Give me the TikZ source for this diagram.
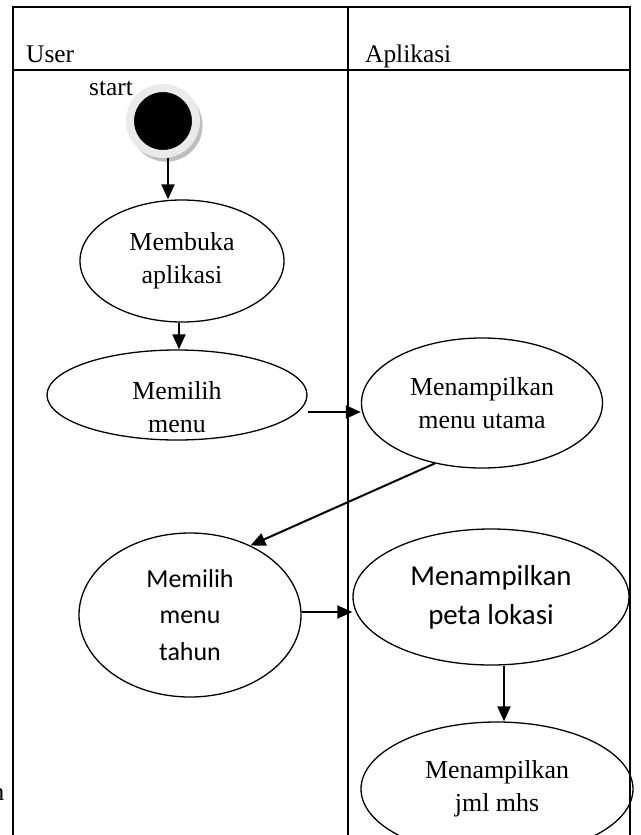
\documentclass[tikz,border=0pt]{standalone}
\usepackage{fontspec}
\setmainfont{Liberation Serif}
\newfontfamily\calibrifont{Carlito}
\usetikzlibrary{shapes.geometric,arrows.meta,shadows}
\definecolor{ringgray}{RGB}{234,234,234}
\definecolor{shadegray}{RGB}{190,190,190}
\tikzset{
  usecase/.style={ellipse,draw,line width=1.3bp,inner sep=0bp,align=center,
    font=\fontsize{26}{33}\selectfont},
  lane/.style={line width=1.8bp,line join=miter},
  lanetext/.style={anchor=base west,inner sep=0bp,font=\fontsize{25.5}{30}\selectfont},
  flow/.style={->,line width=2bp},
}
\begin{document}
\begin{tikzpicture}[>={Triangle[length=15bp,width=13bp]},line join=bevel,]
\useasboundingbox (0bp,0bp) rectangle (641bp,-835bp);
%% swimlanes
\draw [lane] (13bp,-835bp) -- (13bp,-7bp) -- (630bp,-7bp) -- (630bp,-835bp);
\draw [lane] (348bp,-7bp) -- (348bp,-835bp);
\draw [lane] (13bp,-70bp) -- (630bp,-70bp);
\node (lane_user) at (26bp,-62bp) [lanetext] {User};
\node (lane_app) at (365bp,-62bp) [lanetext] {Aplikasi};
\node (cut_text) at (4.5bp,-800bp) [lanetext,anchor=base east] {n};
%%
\node (node_start) at (163bp,-121bp) [circle,fill=black,draw=ringgray,line width=8bp,minimum size=66bp,inner sep=0bp,
  drop shadow={shadow xshift=3bp,shadow yshift=-4bp,shadow scale=1.1,fill=shadegray,opacity=1}] {};
\node (start_text) at (89bp,-95bp) [lanetext] {start};
  \node (node_buka) at (182bp,-261bp) [usecase,minimum width=204bp,minimum height=122bp] {Membuka\\aplikasi};
  \node (node_menu) at (177bp,-395bp) [usecase,minimum width=260bp,minimum height=90bp,
    label={[align=center,font=\fontsize{26}{33}\selectfont,yshift=-12bp]center:{Memilih\\menu}}] {};
  \node (node_utama) at (482bp,-403bp) [usecase,minimum width=241bp,minimum height=130bp] {Menampilkan\\menu utama};
  \node (node_tahun) at (190bp,-615bp) [usecase,minimum width=222bp,minimum height=164bp,
    font=\calibrifont\fontsize{26}{36.5}\selectfont] {Memilih\\menu\\tahun};
  \node (node_peta) at (491bp,-597bp) [usecase,minimum width=276bp,minimum height=136bp,
    font=\calibrifont\fontsize{29}{39}\selectfont] {Menampilkan\\peta lokasi};
  \node (node_jml) at (497bp,-789bp) [usecase,minimum width=272bp,minimum height=134bp] {Menampilkan\\jml mhs};
  \draw [flow] ([xshift=5bp]node_start.south) -- ([xshift=5bp]node_start.south |- node_buka.north);
  \draw [flow] ([xshift=-3bp]node_buka.south) -- ([xshift=-3bp]node_buka.south |- node_menu.north);
  \draw [flow] ([yshift=-17bp]node_menu.east) -- ([yshift=-17bp]node_menu.east -| node_utama.west);
  \draw [flow] (node_utama.-128) -- (node_tahun.49);
  \draw [flow] ([yshift=3bp]node_tahun.east) -- ([yshift=3bp]node_tahun.east -| node_peta.west);
  \draw [flow] ([xshift=13bp]node_peta.south) -- ([xshift=13bp]node_peta.south |- node_jml.north);
%
\end{tikzpicture}
\end{document}
